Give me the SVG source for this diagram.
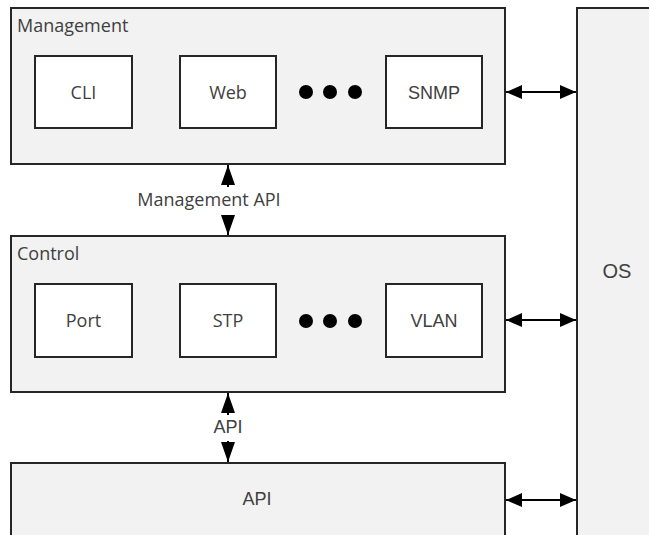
<svg xmlns="http://www.w3.org/2000/svg" width="649" height="535" viewBox="0 0 649 535">
<defs>
<marker id="ah" markerWidth="20" markerHeight="16" refX="16" refY="7" orient="auto-start-reverse" markerUnits="userSpaceOnUse">
<path d="M0,0 L16,7 L0,14 Z" fill="#000"/>
</marker>
<marker id="av" markerWidth="20" markerHeight="16" refX="20" refY="7" orient="auto-start-reverse" markerUnits="userSpaceOnUse">
<path d="M0,0 L20,7 L0,14 Z" fill="#000"/>
</marker>
</defs>
<style>
.outer{fill:#f2f2f2;stroke:#262626;stroke-width:2}
.inner{fill:#fff;stroke:#262626;stroke-width:2}
.t{font-family:"Open Sans",sans-serif;font-size:18px;fill:#404040}
.a{font-family:"Liberation Sans",Arial,sans-serif;font-size:18px;fill:#404040}
.c{text-anchor:middle}
.dot{fill:#000}
.conn{stroke:#000;stroke-width:2;fill:none}
</style>
<rect width="649" height="535" fill="#fff"/>
<g id="os"><rect class="outer" x="577" y="8" width="80" height="540"/><text class="a c" x="617" y="278" style="font-size:20px">OS</text></g>
<g id="management"><rect class="outer" x="11" y="8" width="494" height="156"/><text class="t" x="17" y="32">Management</text></g>
<g id="cli"><rect class="inner" x="35" y="56" width="97" height="72"/><text class="t c" x="83.5" y="98.5">CLI</text></g>
<g id="web"><rect class="inner" x="180" y="56" width="96" height="72"/><text class="t c" x="228" y="98.5">Web</text></g>
<g id="dots1"><circle class="dot" cx="306" cy="92" r="7"/><circle class="dot" cx="330" cy="92" r="7"/><circle class="dot" cx="355" cy="92" r="7"/></g>
<g id="snmp"><rect class="inner" x="386" y="56" width="96" height="72"/><text class="a c" x="434" y="98.5">SNMP</text></g>
<g id="control"><rect class="outer" x="11" y="236" width="494" height="156"/><text class="t" x="17" y="260">Control</text></g>
<g id="port"><rect class="inner" x="35" y="284" width="97" height="73"/><text class="t c" x="83.5" y="326.5">Port</text></g>
<g id="stp"><rect class="inner" x="180" y="284" width="96" height="73"/><text class="t c" x="228" y="326.5">STP</text></g>
<g id="dots2"><circle class="dot" cx="306" cy="321" r="7"/><circle class="dot" cx="330" cy="321" r="7"/><circle class="dot" cx="355" cy="321" r="7"/></g>
<g id="vlan"><rect class="inner" x="386" y="284" width="96" height="73"/><text class="a c" x="434" y="326.5">VLAN</text></g>
<g id="api"><rect class="outer" x="11" y="463" width="494" height="90"/><text class="a c" x="257" y="505">API</text></g>
<g id="connectors">
<path class="conn" d="M228,165 V235" marker-start="url(#av)" marker-end="url(#av)"/>
<rect x="130" y="187" width="158" height="28" fill="#fff"/>
<text class="t c" x="209" y="206">Management API</text>
<path class="conn" d="M228,393 V462" marker-start="url(#av)" marker-end="url(#av)"/>
<rect x="212" y="415" width="32" height="26" fill="#fff"/>
<text class="a c" x="228" y="433">API</text>
<path class="conn" d="M506,92 H576" marker-start="url(#ah)" marker-end="url(#ah)"/>
<path class="conn" d="M506,320 H576" marker-start="url(#ah)" marker-end="url(#ah)"/>
<path class="conn" d="M506,500 H576" marker-start="url(#ah)" marker-end="url(#ah)"/>
</g>
</svg>
